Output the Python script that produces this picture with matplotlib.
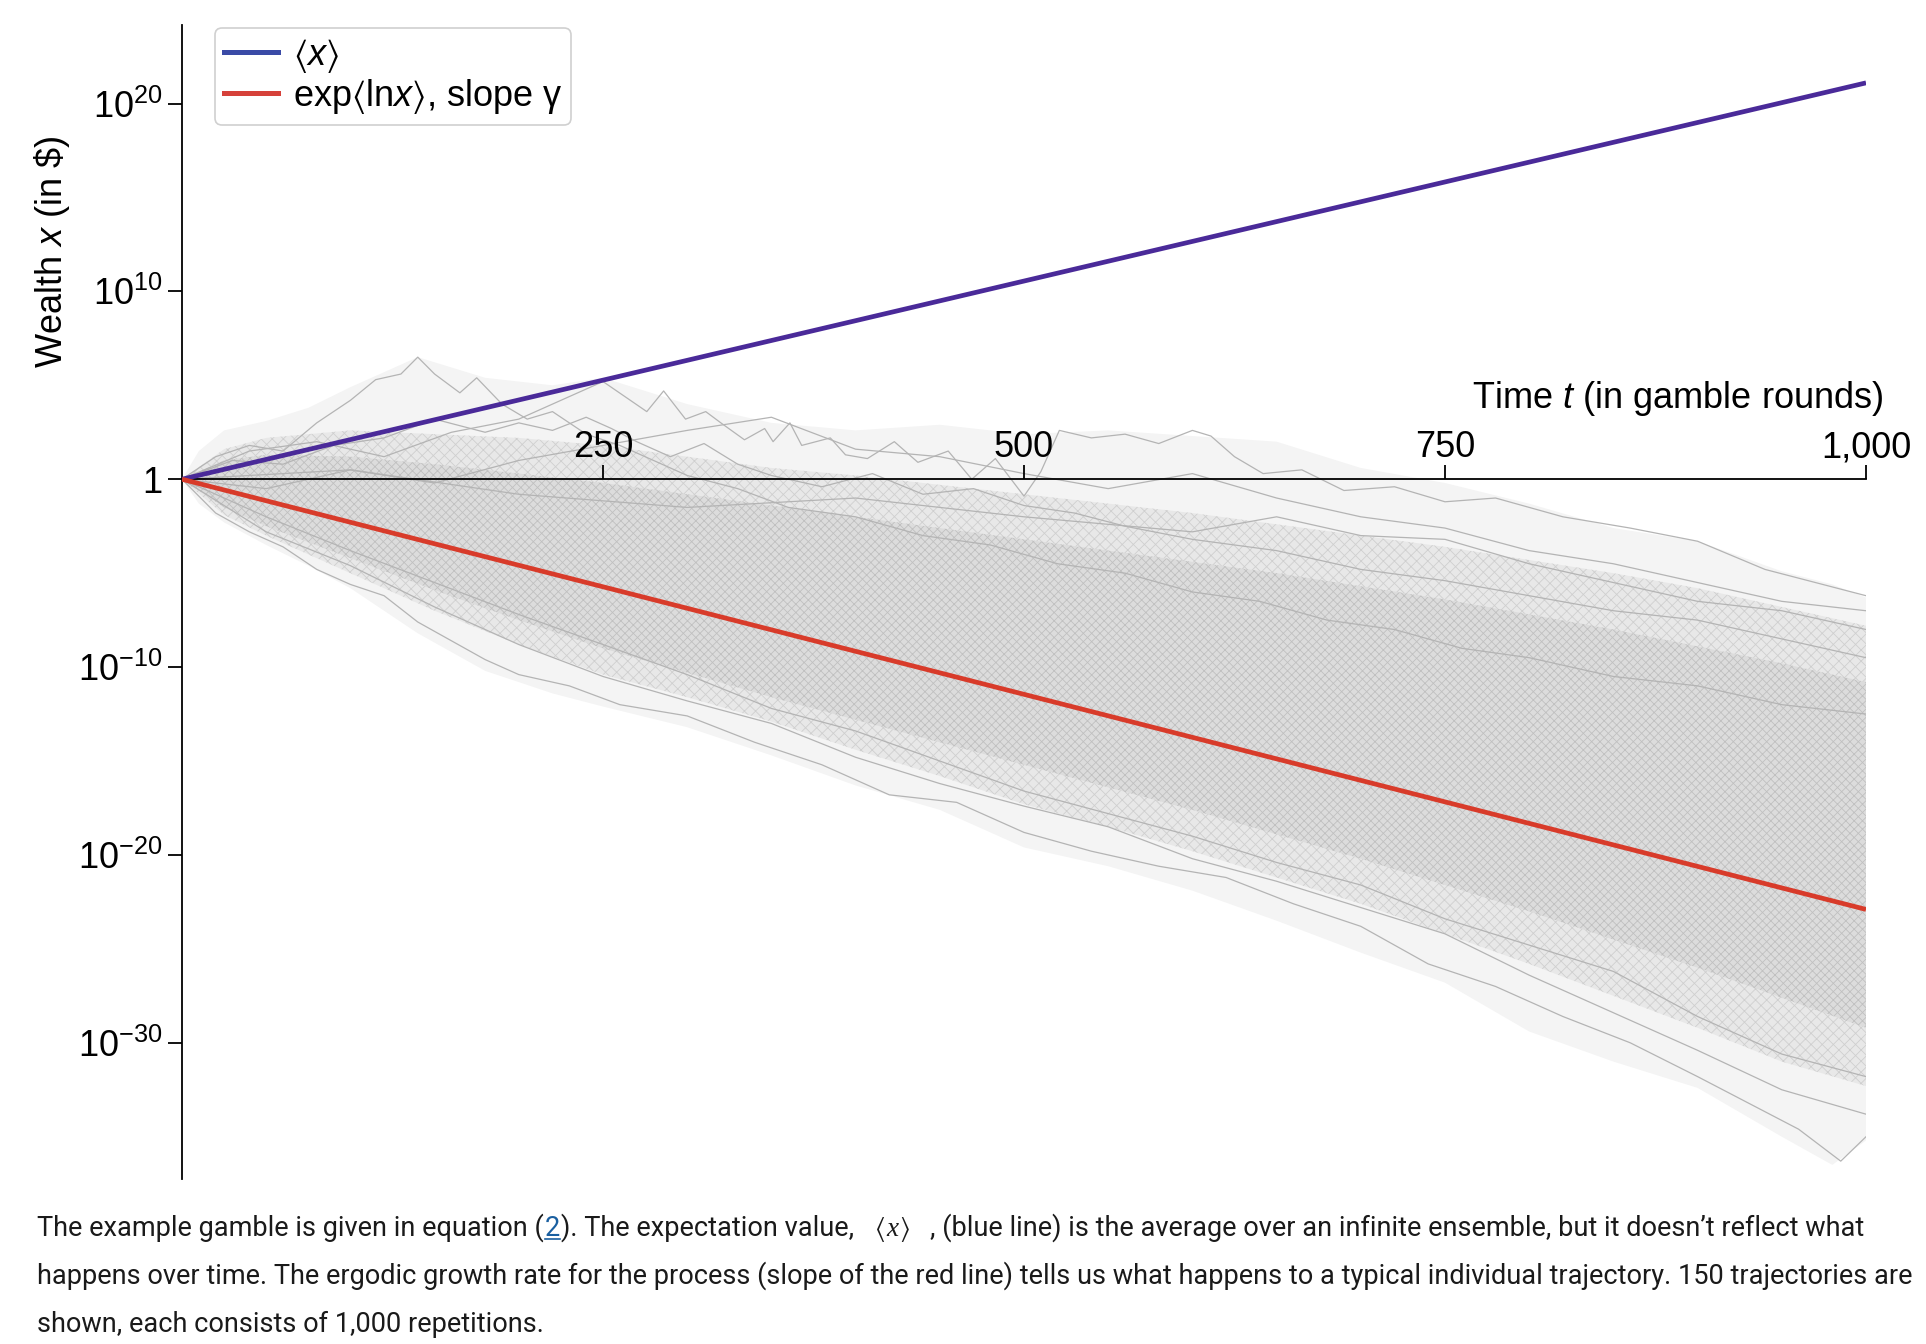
import numpy as np
import matplotlib
matplotlib.use("Agg")
import matplotlib.pyplot as plt
from matplotlib.lines import Line2D
from matplotlib.ticker import NullLocator

# ---------------- data (log10 of wealth) ----------------
t_ends = [0, 1000]
mean_log10 = [0.0, 21.1]          # <x>
timeavg_log10 = [0.0, -22.9]      # exp<ln x>

# outer envelope of the 150 trajectories
t_outer = [0, 10, 25, 50, 75, 100, 140, 180, 220, 250, 300, 350, 400, 450, 500,
           550, 600, 650, 700, 750, 800, 850, 900, 950, 980, 1000]
outer_up = [0, 1.5, 2.6, 3.1, 3.8, 4.9, 6.5, 5.4, 5.0, 5.4, 4.0, 3.0, 2.6, 2.9, 2.4,
            2.6, 2.3, 2.0, 0.6, -0.2, -1.3, -2.6, -3.3, -4.9, -5.6, -6.3]
outer_low = [0, -1.3, -2.3, -3.5, -4.6, -5.8, -8.2, -10.2, -11.4, -12.1, -13.2, -14.7,
             -16.3, -17.6, -19.6, -20.6, -21.9, -23.5, -25.2, -26.8, -29.4, -31.0,
             -32.4, -35.0, -36.5, -35.2]

# bands where the trajectories are dense
t_band = [0, 25, 50, 100, 150, 200, 250, 300, 350, 400, 450, 500, 550, 600, 650,
          700, 750, 800, 850, 900, 950, 1000]
mid_up = [0, 1.6, 2.2, 2.6, 2.4, 2.2, 1.8, 1.2, 0.6, 0.2, -0.3, -0.8, -1.3, -1.8,
          -2.4, -3.0, -3.6, -4.3, -5.0, -5.8, -6.8, -7.8]
mid_low = [0, -1.9, -3.0, -5.0, -7.0, -8.8, -10.4, -11.6, -12.9, -14.4, -15.8, -17.3,
           -18.5, -19.8, -21.2, -22.6, -24.2, -25.8, -27.5, -29.2, -31.0, -32.3]
core_up = [0, 1.0, 1.3, 1.2, 0.8, 0.3, -0.2, -0.8, -1.4, -2.0, -2.6, -3.2, -3.8,
           -4.4, -5.0, -5.7, -6.4, -7.2, -8.0, -8.9, -9.8, -10.8]
core_low = [0, -1.5, -2.5, -4.2, -5.9, -7.5, -9.0, -10.3, -11.6, -12.8, -14.0,
            -15.2, -16.4, -17.6, -18.9, -20.2, -21.6, -23.0, -24.5, -26.0, -27.6, -29.2]

# individual trajectories traced from the sparse edges
traj1_t = [0, 20, 40, 60, 80, 100, 115, 130, 140, 150, 165, 175, 190, 205, 220, 240,
           260, 280, 300, 330, 360, 400, 440, 480, 520, 560, 600, 640, 680, 720, 760,
           800, 850, 900, 950, 1000]
traj1_v = [0, 1.2, 1.8, 1.5, 3.0, 4.2, 5.3, 5.6, 6.5, 5.6, 4.6, 5.4, 4.0, 3.2, 3.6,
           2.4, 1.8, 1.0, 0.2, -0.5, -1.5, -2.0, -3.0, -3.5, -4.5, -5.0, -6.0, -6.5,
           -7.5, -8.0, -9.0, -9.5, -10.5, -11.0, -12.0, -12.5]
traj2_t = [0, 30, 60, 90, 120, 150, 180, 200, 220, 240, 255, 270, 290, 310, 330, 350,
           380, 410, 440, 470, 500, 530, 560, 600, 650, 700, 750, 800, 850, 900, 950, 1000]
traj2_v = [0, 1.0, 0.8, 1.8, 2.2, 3.2, 2.5, 3.0, 2.6, 3.3, 2.7, 2.0, 1.2, 1.9, 0.8,
           0.2, -0.4, 0.3, -0.8, -0.5, -1.4, -1.8, -2.5, -3.2, -3.8, -4.8, -5.4, -6.2,
           -7.0, -7.5, -8.5, -9.5]
traj3_t = [0, 40, 80, 120, 160, 200, 250, 276, 286, 299, 311, 320, 334, 346, 351, 361,
           368, 385, 394, 407, 423, 437, 455, 469, 483, 500, 510, 521, 540, 560, 580,
           600, 611, 625, 642, 665, 690, 720, 750, 780, 820, 860, 900, 940, 970, 1000]
traj3_v = [0, 1.5, 2.0, 1.2, 2.5, 3.2, 5.2, 3.6, 4.7, 3.2, 3.6, 3.0, 2.1, 2.7, 2.0,
           3.0, 1.8, 2.2, 1.3, 1.1, 2.0, 0.9, 1.5, 0.0, 1.1, -0.9, 0.4, 2.6, 2.2, 2.4,
           1.9, 2.6, 2.3, 1.2, 0.3, 0.5, -0.6, -0.4, -1.2, -1.0, -2.0, -2.6, -3.3,
           -4.8, -5.5, -6.2]
traj4_t = [0, 50, 100, 150, 200, 250, 300, 350, 400, 450, 500, 550, 600, 650, 700,
           750, 800, 850, 900, 950, 1000]
traj4_v = [0, -0.5, 0.5, -0.2, 1.0, 1.8, 2.6, 3.3, 1.6, 1.2, 0.3, -0.5, 0.3, -1.0,
           -2.0, -2.6, -3.8, -4.5, -5.5, -6.5, -7.0]
traj5_t = [0, 100, 200, 300, 400, 500, 600, 650, 700, 750, 800, 850, 900, 950, 1000]
traj5_v = [0, 0.5, -0.8, -1.5, -1.0, -2.0, -2.8, -2.0, -3.0, -3.2, -4.5, -5.5, -6.5,
           -7.0, -8.0]
traj6_t = [0, 20, 40, 60, 80, 100, 120, 140, 160, 180, 200, 230, 260, 300, 340, 380,
           420, 460, 500, 540, 580, 620, 660, 700, 740, 780, 820, 860, 900, 930, 960,
           985, 1000]
traj6_v = [0, -1.8, -2.8, -3.6, -4.8, -5.6, -6.2, -7.6, -8.6, -9.6, -10.4, -11.0,
           -12.0, -12.6, -14.0, -15.2, -16.8, -17.2, -18.8, -19.8, -20.6, -21.2,
           -22.6, -23.8, -25.8, -27.0, -28.6, -30.0, -31.8, -33.2, -34.6, -36.3, -35.0]
traj7_t = [0, 50, 100, 150, 200, 250, 300, 350, 400, 450, 500, 550, 600, 650, 700,
           750, 800, 850, 900, 950, 1000]
traj7_v = [0, -2.8, -4.6, -6.8, -8.8, -10.5, -11.8, -13.0, -14.8, -16.2, -17.4,
           -18.5, -20.2, -21.4, -22.8, -24.2, -26.4, -28.4, -30.4, -32.5, -33.8]
traj8_v = [0, -2.0, -3.8, -5.5, -7.2, -8.8, -10.4, -12.2, -13.4, -15.0, -16.6, -17.8,
           -19.0, -20.4, -21.6, -23.4, -24.8, -26.2, -28.6, -30.6, -31.8]

y_ticks = [1e20, 1e10, 1, 1e-10, 1e-20, 1e-30]
y_tick_labels = ["$10^{20}$", "$10^{10}$", "1", "$10^{-10}$", "$10^{-20}$", "$10^{-30}$"]
x_ticks = [250, 500, 750, 1000]
x_tick_labels = ["250", "500", "750", "1,000"]

caption_line2 = ("happens over time. The ergodic growth rate for the process (slope of the red "
                 "line) tells us what happens to a typical individual trajectory. 150 trajectories are")
caption_line3 = "shown, each consists of 1,000 repetitions."

# ---------------- style ----------------
plt.rcParams["font.family"] = ["Liberation Sans", "DejaVu Sans"]
plt.rcParams["mathtext.fontset"] = "custom"
plt.rcParams["mathtext.rm"] = "Liberation Sans"
plt.rcParams["mathtext.it"] = "Liberation Sans:italic"
plt.rcParams["mathtext.fallback"] = "stix"
plt.rcParams["hatch.linewidth"] = 0.6

W, H = 1926, 1344
fig = plt.figure(figsize=(W / 100, H / 100), dpi=100)
ax_left, ax_top, ax_right, ax_bot = 182, 25, 1866, 1179
ax = fig.add_axes([ax_left / W, 1 - ax_bot / H, (ax_right - ax_left) / W, (ax_bot - ax_top) / H])

def p10(v):
    return 10.0 ** np.asarray(v, dtype=float)

gray_line = "#b4b4b4"
ax.fill_between(t_outer, p10(outer_low), p10(outer_up), facecolor="#f4f4f4",
                edgecolor="none", lw=0, zorder=1)
ax.fill_between(t_band, p10(mid_low), p10(mid_up), facecolor="#e8e8e8",
                edgecolor="#cfcfcf", hatch="xxx", lw=0, zorder=1.1)
ax.fill_between(t_band, p10(core_low), p10(core_up), facecolor="#dcdcdc",
                edgecolor="#c0c0c0", hatch="xxxx", lw=0, zorder=1.2)

for tt, vv in [(traj1_t, traj1_v), (traj2_t, traj2_v), (traj3_t, traj3_v),
               (traj4_t, traj4_v), (traj5_t, traj5_v), (traj6_t, traj6_v),
               (traj7_t, traj7_v), (traj7_t, traj8_v)]:
    ax.plot(tt, p10(vv), color=gray_line, lw=0.9, zorder=1.5)

ax.plot(t_ends, p10(mean_log10), color="#4a2a99", lw=3.4, zorder=4, solid_capstyle="butt")
ax.plot(t_ends, p10(timeavg_log10), color="#d83b2a", lw=3.4, zorder=4, solid_capstyle="butt")

ax.set_yscale("log")
ax.set_xlim(0, 1000)
ax.set_ylim(10 ** -37.25, 10 ** 24.18)

ax.spines["right"].set_visible(False)
ax.spines["bottom"].set_visible(False)
ax.spines["top"].set_position(("data", 1))
ax.spines["top"].set_linewidth(1.3)
ax.spines["left"].set_linewidth(1.3)
ax.spines["top"].set_zorder(3)
ax.xaxis.set_ticks_position("top")
ax.set_xticks(x_ticks)
ax.set_xticklabels(x_tick_labels)
ax.tick_params(axis="x", direction="out", length=10, width=1.3, pad=0, labelsize=26)
ax.set_yticks(y_ticks)
ax.set_yticklabels(y_tick_labels)
ax.yaxis.set_minor_locator(NullLocator())
ax.tick_params(axis="y", direction="out", length=10, width=1.3, pad=4, labelsize=26)

fig.text(52 / W, 1 - 252 / H, "Wealth $x$ (in \\$)", rotation=90, ha="center",
         va="center", fontsize=26)
fig.text(1883 / W, 1 - 399 / H, "Time $t$ (in gamble rounds)", ha="right",
         va="center", fontsize=26)

handles = [Line2D([0], [0], color="#3a4aa6", lw=3.6),
           Line2D([0], [0], color="#d6413a", lw=3.6)]
labels = ["$\\langle x\\rangle$", "exp$\\langle$ln$x\\rangle$, slope γ"]
leg = ax.legend(handles, labels, loc="upper left",
                bbox_to_anchor=((215 - ax_left) / (ax_right - ax_left), 1 - 3 / (ax_bot - ax_top)),
                borderaxespad=0, fontsize=26, handlelength=1.5, handletextpad=0.4,
                labelspacing=0.05, borderpad=0.25, frameon=True, fancybox=True,
                edgecolor="#d0d0d0", framealpha=1)
leg.get_frame().set_linewidth(1.2)

# ---------------- caption ----------------
renderer = fig.canvas.get_renderer()
cfam = ["Roboto", "STIXGeneral", "DejaVu Sans"]
probe = fig.text(0, 0, caption_line2, fontsize=18, family=cfam)
w18 = probe.get_window_extent(renderer).width
probe.remove()
csize = 18 * (1868 / w18)
x0 = 37
base = [1236, 1284, 1332]
ccol = "#1a1a1a"

def put(xpx, ypx, s, fam=None, **kw):
    t = fig.text(xpx / W, 1 - ypx / H, s, fontsize=csize, va="baseline",
                 family=fam or cfam, color=kw.pop("color", ccol), **kw)
    return t, t.get_window_extent(renderer)

sp = csize * 100 / 72 * 0.25
serif = ["Liberation Serif", "STIXGeneral"]
x = x0
t, bb = put(x, base[0], "The example gamble is given in equation (")
x += bb.width + 1
t, bb = put(x, base[0], "2", color="#1a5fa0")
fig.add_artist(Line2D([bb.x0 / W, bb.x1 / W], [(H - base[0] - 3) / H] * 2,
                      color="#1a5fa0", lw=1.2))
x += bb.width + 1
t, bb = put(x, base[0], "). The expectation value,")
x += bb.width + 3 * sp
t, bb = put(x, base[0], "⟨", fam=serif)
x += bb.width + 1
t, bb = put(x, base[0], "x", fam=serif, style="italic")
x += bb.width + 1
t, bb = put(x, base[0], "⟩", fam=serif)
x += bb.width + 3 * sp
put(x, base[0], ", (blue line) is the average over an infinite ensemble, but it doesn’t reflect what")
put(x0, base[1], caption_line2)
put(x0, base[2], caption_line3)

fig.savefig("out.png", dpi=100)
